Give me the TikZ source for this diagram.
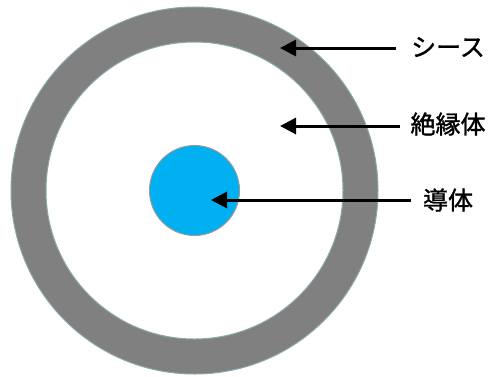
\documentclass[tikz,border=0pt]{standalone}
\usepackage{fontspec}
\newfontfamily\cjk[FakeBold=1.2]{Noto Sans CJK JP}
\usetikzlibrary{arrows.meta}
\definecolor{sheath}{HTML}{808080}
\definecolor{rim}{HTML}{8AA8AC}
\definecolor{core}{HTML}{00B0F0}
\begin{document}
\begin{tikzpicture}[x=1pt,y=-1pt,
  lbl/.style={font=\cjk\fontsize{25}{28}\selectfont, inner sep=0pt, anchor=center},
  ptr/.style={line width=3pt, -{Triangle[length=16pt,width=16pt]}}]
\useasboundingbox (0,0) rectangle (489,376);
\node[circle, fill=sheath, draw=rim, line width=1pt, minimum size=367pt, inner sep=0pt] (outer) at (194.5,190.5) {};
\node[circle, fill=white, draw=rim, line width=1pt, minimum size=297pt, inner sep=0pt] (insul) at (194.5,190.5) {};
\node[circle, fill=core, draw=gray!80, line width=1pt, minimum size=90pt, inner sep=0pt] (cond) at (194.5,190.5) {};
\node[lbl] (l1) at (448,47) {シース};
\node[lbl] (l2) at (448,124) {絶縁体};
\node[lbl] (l3) at (448,200) {導体};
\coordinate (t1) at (280,48);
\coordinate (t2) at (280,126);
\coordinate (t3) at (211,200);
\draw[ptr] (l1.west |- t1) ++(-15,0) -- (t1);
\draw[ptr] (l2.west |- t2) ++(-10,0) -- (t2);
\draw[ptr] (l3.west |- t3) ++(-12,0) -- (t3);
\end{tikzpicture}
\end{document}
